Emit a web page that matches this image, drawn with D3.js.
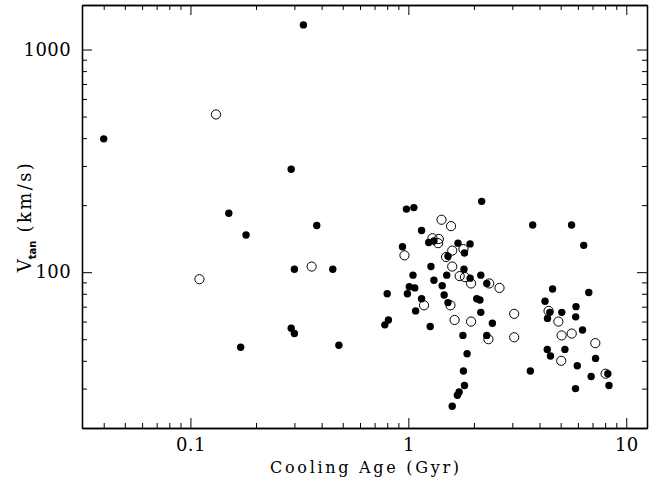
<!DOCTYPE html>
<html>
<head>
<meta charset="utf-8">
<script src="https://cdn.jsdelivr.net/npm/d3@7"></script>
<style>
  body { margin: 0; background: #fff; }
  .axis path { stroke: #000; stroke-width: 1.3; }
  .axis line { stroke: #000; stroke-width: 1; }
  .axis text { font-family: "DejaVu Serif", serif; font-size: 18px; fill: #000; letter-spacing: 0.4px; }
  .axis_label { font-family: "DejaVu Serif", serif; fill: #000; }
</style>
</head>
<body>
<script>
// cooling age (Gyr) and tangential velocity (km/s), filled symbols
var age_filled = [0.040, 0.33, 0.29, 0.15, 0.18, 0.38, 0.30, 0.45, 0.29, 0.30,
    0.17, 0.48, 0.98, 1.06, 2.17, 3.72, 5.61, 1.15, 1.24, 1.31,
    0.94, 1.69, 1.92, 1.52, 1.81, 1.27, 1.80, 6.38, 1.05, 1.50,
    1.92, 2.15, 2.29, 1.31, 1.43, 1.01, 1.07, 0.99, 0.80, 1.46,
    1.15, 1.08, 1.52, 2.06, 2.13, 2.15, 2.43, 1.26, 0.81, 0.78,
    1.78, 2.29, 1.86, 1.79, 1.81, 1.71, 1.68, 1.59, 3.63, 4.59,
    6.73, 4.24, 4.46, 4.35, 5.06, 5.88, 5.86, 6.30, 4.34, 4.49,
    5.23, 7.23, 5.96, 6.90, 8.23, 8.33, 5.85];
var vtan_filled = [397, 1290, 290, 184, 147, 162, 103, 103, 56, 53,
    46, 47, 192, 195, 208, 163, 163, 154, 136, 138,
    130, 135, 134, 118, 122, 106, 103, 132, 97, 97,
    94, 97, 89, 92, 87, 86, 85, 80, 80, 79,
    76, 67, 73, 76, 75, 66, 59, 57, 61, 58,
    52, 52, 43, 36, 31, 29, 28, 25, 36, 84,
    81, 74, 66, 62, 66, 70, 63, 55, 45, 42,
    45, 41, 38, 34, 35, 31, 30];

// open symbols
var age_open = [0.131, 0.110, 0.36, 1.42, 1.57, 1.29, 1.38, 1.37, 0.96, 1.59,
    1.49, 1.79, 1.59, 1.72, 1.82, 1.94, 2.35, 2.62, 1.18, 1.56,
    3.06, 3.06, 1.63, 1.94, 2.33, 4.40, 4.88, 5.05, 5.62, 7.21,
    5.03, 8.04];
var vtan_open = [511, 93, 106, 172, 161, 142, 141, 135, 119, 125,
    117, 127, 106, 96, 95, 89, 89, 85, 71, 71,
    65, 51, 61, 60, 50, 67, 60, 52, 53, 48,
    40, 35];

var x_major = [0.1, 1, 10];
var x_minor = [0.04, 0.05, 0.06, 0.07, 0.08, 0.09,
    0.2, 0.3, 0.4, 0.5, 0.6, 0.7, 0.8, 0.9,
    2, 3, 4, 5, 6, 7, 8, 9];
var y_major = [100, 1000];
var y_minor = [30, 40, 50, 60, 70, 80, 90,
    200, 300, 400, 500, 600, 700, 800, 900];
var x_domain = [0.0318, 12.45];
var y_domain = [19.96, 1585];

var x_title = "Cooling Age (Gyr)";

// Chart dimensions
var left_margin = 82,
    top_margin = 5,
    width = 565,
    height = 423;

var svg = d3.select("body")
        .append("svg")
        .attr("width", 652)
        .attr("height", 481)
        .append("g")
        .attr("transform", "translate(" + left_margin + "," + top_margin + ")");

var scale_x = d3.scaleLog().domain(x_domain).range([0, width]);
var scale_y = d3.scaleLog().domain(y_domain).range([height, 0]);

// axes with inward ticks on all four sides
function add_axis(maker, scale, translate, major, minor, labelled, pad) {
    var g = svg.append("g")
            .attr("class", "axis")
            .attr("transform", translate);
    g.call(maker(scale)
            .tickValues(minor)
            .tickSizeInner(-5)
            .tickSizeOuter(0)
            .tickFormat(""));
    var g2 = svg.append("g")
            .attr("class", "axis")
            .attr("transform", translate);
    g2.call(maker(scale)
            .tickValues(major)
            .tickSizeInner(-10)
            .tickSizeOuter(0)
            .tickPadding(pad)
            .tickFormat(labelled ? function(d){ return String(d); } : ""));
}

add_axis(d3.axisBottom, scale_x, "translate(0," + height + ")", x_major, x_minor, true, 10);
add_axis(d3.axisTop, scale_x, "translate(0,0)", x_major, x_minor, false, 0);
add_axis(d3.axisLeft, scale_y, "translate(0,0)", y_major, y_minor, true, 11);
add_axis(d3.axisRight, scale_y, "translate(" + width + ",0)", y_major, y_minor, false, 0);

// points
var plot = svg.append("g");

plot.selectAll("circle.open")
        .data(age_open)
        .enter()
        .append("circle")
        .attr("class", "open")
        .attr("cx", function(d){ return scale_x(d); })
        .attr("cy", function(d, i){ return scale_y(vtan_open[i]); })
        .attr("r", 4.6)
        .style("fill", "none")
        .style("stroke", "#000")
        .style("stroke-width", 1);

plot.selectAll("circle.filled")
        .data(age_filled)
        .enter()
        .append("circle")
        .attr("class", "filled")
        .attr("cx", function(d){ return scale_x(d); })
        .attr("cy", function(d, i){ return scale_y(vtan_filled[i]); })
        .attr("r", 3.7)
        .style("fill", "#000");

// x label
svg.append("text")
        .text(x_title)
        .attr("class", "axis_label")
        .attr("x", width / 2)
        .attr("y", 468)
        .attr("text-anchor", "middle")
        .attr("textLength", 189)
        .attr("lengthAdjust", "spacing")
        .style("font-size", "16px");

// y label
var y_label = svg.append("text")
        .attr("class", "axis_label")
        .attr("transform", "translate(" + (-51) + "," + (height / 2) + ") rotate(-90)")
        .attr("text-anchor", "middle")
        .style("font-size", "18px");
y_label.append("tspan").text("V");
y_label.append("tspan")
        .text("tan")
        .attr("dy", 5)
        .style("font-family", "'DejaVu Sans', sans-serif")
        .style("font-weight", "bold")
        .style("font-size", "10px");
y_label.append("tspan")
        .text(" (km/s)")
        .attr("dy", -5)
        .style("letter-spacing", "2.4px");
</script>
</body>
</html>
